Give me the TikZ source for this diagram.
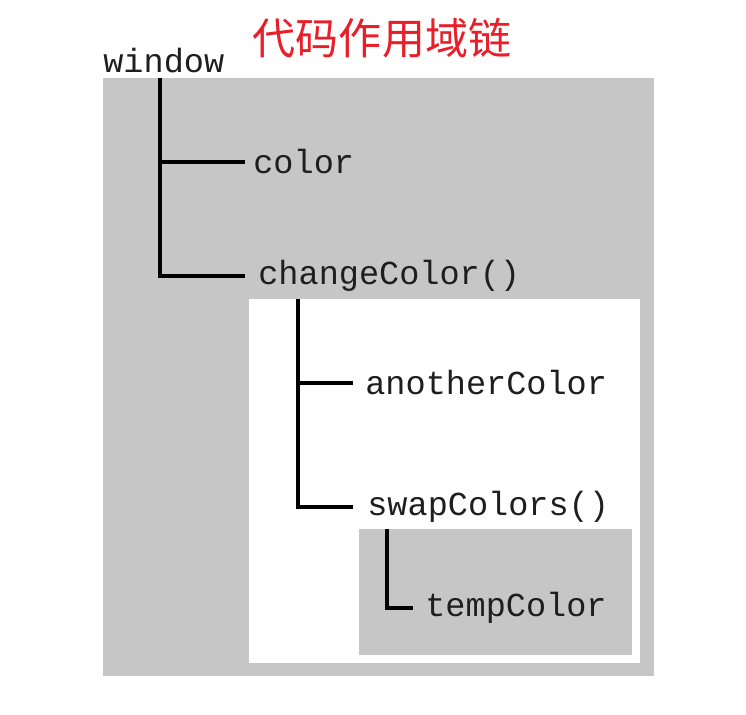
\documentclass[tikz,border=0pt]{standalone}
\usepackage{fontspec}
\newfontfamily\codefont{Liberation Mono}
\newfontfamily\cjkfont{Noto Sans CJK SC}
\definecolor{scopegray}{RGB}{198,198,198}
\definecolor{titlered}{RGB}{232,30,40}
\definecolor{codeink}{RGB}{30,30,30}
\tikzset{
  branch/.style={draw,line width=1.9pt},
  ident/.style={anchor=west,inner sep=0pt,text=codeink,font=\codefont\fontsize{19.1}{22}\selectfont}
}

\begin{document}
\begin{tikzpicture}[x=0.02cm,y=-0.02cm]
\useasboundingbox (0,0) rectangle (746,715);
% scopes
\fill[scopegray] (103,78) rectangle (654,676);
\fill[white] (249,299) rectangle (640,663);
\fill[scopegray] (359,529) rectangle (632,655);

\node[inner sep=0pt,text=titlered,font=\cjkfont\fontsize{24.5}{28}\selectfont] (title) at (382,38) {代码作用域链};

\node[ident] (window) at (103,61) {window};
\node[ident] (color) at (253,162) {color};
\node[ident] (change) at (258,276) {changeColor()};
\node[ident] (another) at (365,383) {anotherColor};
\node[ident] (swap) at (367,507) {swapColors()};
\node[ident] (temp) at (425,608) {tempColor};

\coordinate (w0) at (160,78);
\coordinate (c0) at (298,299);
\coordinate (s0) at (387,529);

\path[branch] (w0) |- ([xshift=-4.5pt]color.west);
\path[branch] (w0) |- ([xshift=-7.4pt]change.west);
\path[branch] (c0) |- ([xshift=-6.8pt]another.west);
\path[branch] (c0) |- ([xshift=-7.9pt]swap.west);
\path[branch] (s0) |- ([xshift=-6.8pt]temp.west);
\end{tikzpicture}
\end{document}
